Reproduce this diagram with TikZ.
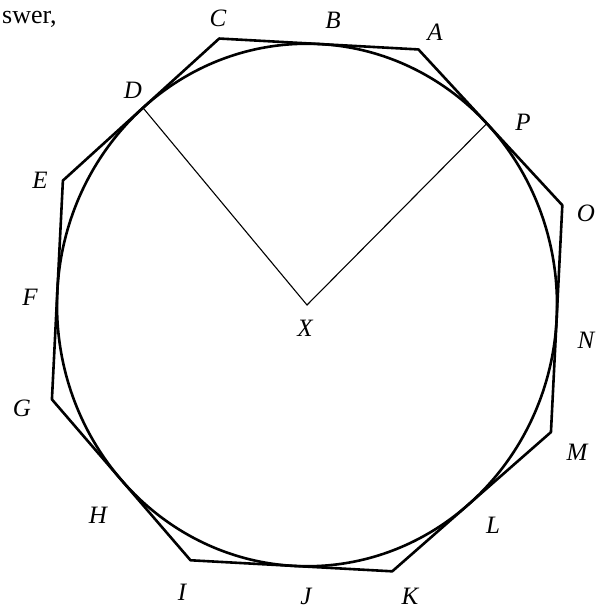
\documentclass[tikz,border=0pt]{standalone}
\usepackage{fontspec}
\setmainfont{Liberation Serif}
\begin{document}
\begin{tikzpicture}[x=1pt,y=1pt,
  lab/.style={font=\fontsize{25}{29}\selectfont\itshape, inner sep=0pt},
  thickline/.style={line width=2.6pt, line join=round},
  thinline/.style={line width=1.1pt}]
\useasboundingbox (0,0) rectangle (600,610);
\node[anchor=base west, inner sep=0pt, font=\fontsize{26}{30}\selectfont] (sw) at (2,586) {swer,};
\begin{scope}[shift={(307,305)}, yscale=1.045]
  \coordinate (X) at (0,0);
  % tangent points
  \coordinate (tB) at (87:250);
  \coordinate (tD) at (131:250);
  \coordinate (tF) at (177:250);
  \coordinate (tH) at (222:250);
  \coordinate (tJ) at (267:250);
  \coordinate (tL) at (310:250);
  \coordinate (tN) at (357:250);
  \coordinate (tP) at (44:250);
  % vertices
  \coordinate (vA) at ({(44+87)/2}:{250/cos((87-44)/2)});
  \coordinate (vC) at ({(87+131)/2}:{250/cos((131-87)/2)});
  \coordinate (vE) at ({(131+177)/2}:{250/cos((177-131)/2)});
  \coordinate (vG) at ({(177+222)/2}:{250/cos((222-177)/2)});
  \coordinate (vI) at ({(222+267)/2}:{250/cos((267-222)/2)});
  \coordinate (vK) at ({(267+310)/2}:{250/cos((310-267)/2)});
  \coordinate (vM) at ({(310+357)/2}:{250/cos((357-310)/2)});
  \coordinate (vO) at ({(357+404)/2}:{250/cos((404-357)/2)});
  \draw[thickline] (X) circle (250);
  \draw[thickline] (vA) -- (vC) -- (vE) -- (vG) -- (vI) -- (vK) -- (vM) -- (vO) -- cycle;
  \draw[thinline] (tD) -- (X) -- (tP);
\end{scope}
\node[lab] (C) at (218,592) {C};
\node[lab] (B) at (333,590) {B};
\node[lab] (A) at (435,578) {A};
\node[lab] (D) at (133,520) {D};
\node[lab] (P) at (523,488) {P};
\node[lab] (E) at (40,430) {E};
\node[lab] (O) at (586,397) {O};
\node[lab] (F) at (30,313) {F};
\node[lab] (N) at (586,270) {N};
\node[lab] (Xl) at (305,282) {X};
\node[lab] (G) at (22,202) {G};
\node[lab] (M) at (577,158) {M};
\node[lab] (H) at (98,95) {H};
\node[lab] (L) at (493,85) {L};
\node[lab] (I) at (182,18) {I};
\node[lab] (J) at (306,14) {J};
\node[lab] (K) at (410,14) {K};
\end{tikzpicture}
\end{document}
